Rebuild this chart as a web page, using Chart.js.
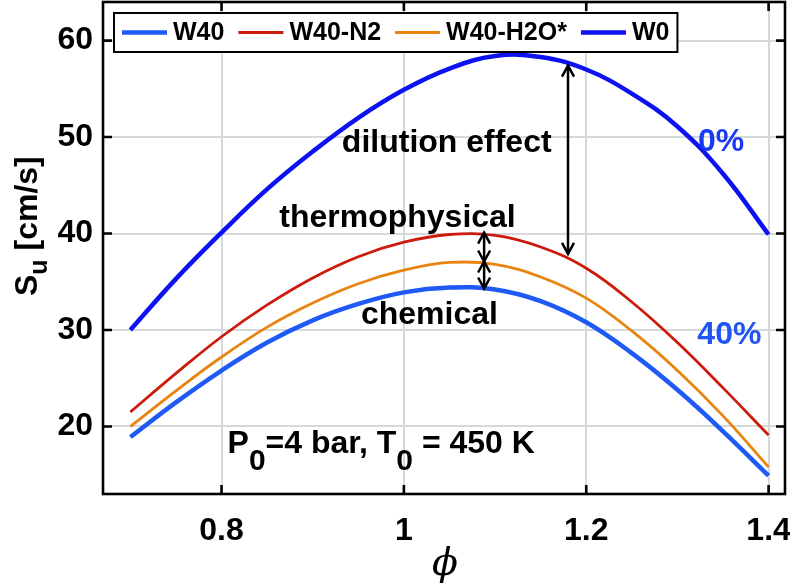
<!DOCTYPE html>
<html>
<head>
<meta charset="utf-8">
<script src="https://cdn.jsdelivr.net/npm/chart.js@4.4.0/dist/chart.umd.min.js"></script>
<style>
  html, body { margin: 0; padding: 0; background: #fff; }
</style>
</head>
<body>
<canvas id="chart_su" width="790" height="588"></canvas>
<script>
// equivalence ratio
var phi = [0.7, 0.75, 0.8, 0.85, 0.9, 0.95, 1.0, 1.05, 1.1, 1.15, 1.2, 1.25, 1.3, 1.35, 1.4];

// laminar burning velocity, cm/s
var w40    = [18.9, 22.5, 25.8, 28.7, 31.0, 32.7, 33.9, 34.4, 34.2, 33.0, 30.8, 27.6, 23.8, 19.5, 14.9];
var w40n2  = [21.5, 25.5, 29.3, 32.6, 35.4, 37.6, 39.1, 39.9, 39.8, 38.6, 36.4, 32.9, 28.7, 24.0, 19.1];
var w40h2o = [20.0, 23.7, 27.2, 30.3, 32.8, 34.8, 36.2, 37.0, 36.8, 35.5, 33.3, 29.9, 25.8, 21.1, 15.8];
var w0     = [30.0, 35.3, 40.1, 44.6, 48.5, 52.0, 54.9, 57.1, 58.4, 58.3, 57.0, 54.5, 51.1, 46.2, 39.9];

var seriesNames = ['W40', 'W40-N2', 'W40-H2O*', 'W0'];
var seriesData = [w40, w40n2, w40h2o, w0];
var seriesColors = ['#1f5af6', '#cc1a0c', '#e8840f', '#0c12f0'];
var seriesWidths = [4.5, 2.8, 2.8, 4.5];

var xTickVals = [0.8, 1, 1.2, 1.4];
var yTickVals = [20, 30, 40, 50, 60];

var FONT = '"Liberation Sans", Arial, Helvetica, sans-serif';

function arrowHead(ctx, x, y, dir) {
  // dir = -1 points up, +1 points down
  ctx.beginPath();
  ctx.moveTo(x - 6, y - dir * 11);
  ctx.lineTo(x, y);
  ctx.lineTo(x + 6, y - dir * 11);
  ctx.stroke();
}

function doubleArrow(ctx, xs, ys, xv, yTop, yBot) {
  var x = xs.getPixelForValue(xv);
  var y1 = ys.getPixelForValue(yTop);
  var y2 = ys.getPixelForValue(yBot);
  ctx.beginPath();
  ctx.moveTo(x, y1);
  ctx.lineTo(x, y2);
  ctx.stroke();
  arrowHead(ctx, x, y1, -1);
  arrowHead(ctx, x, y2, 1);
}

function drawRuns(ctx, x, y, runs) {
  // runs: [text, size, dy]
  for (var i = 0; i < runs.length; i++) {
    ctx.font = 'bold ' + runs[i][1] + 'px ' + FONT;
    ctx.fillText(runs[i][0], x, y + runs[i][2]);
    x += ctx.measureText(runs[i][0]).width;
  }
}

var decor = {
  id: 'decor',
  afterDatasetsDraw: function(chart) {
    var ctx = chart.ctx;
    var a = chart.chartArea;
    var xs = chart.scales.x;
    var ys = chart.scales.y;
    ctx.save();

    // box + inward ticks
    ctx.strokeStyle = '#000';
    ctx.lineWidth = 2.6;
    ctx.strokeRect(a.left, a.top, a.right - a.left, a.bottom - a.top);
    ctx.beginPath();
    xTickVals.forEach(function(v) {
      var px = xs.getPixelForValue(v);
      ctx.moveTo(px, a.bottom); ctx.lineTo(px, a.bottom - 9);
      ctx.moveTo(px, a.top); ctx.lineTo(px, a.top + 9);
    });
    yTickVals.forEach(function(v) {
      var py = ys.getPixelForValue(v);
      ctx.moveTo(a.left, py); ctx.lineTo(a.left + 9, py);
      ctx.moveTo(a.right, py); ctx.lineTo(a.right - 9, py);
    });
    ctx.stroke();

    // arrows
    ctx.lineWidth = 2.5;
    doubleArrow(ctx, xs, ys, 1.18, 57.4, 37.9);
    doubleArrow(ctx, xs, ys, 1.088, 40.1, 37.1);
    doubleArrow(ctx, xs, ys, 1.088, 37.1, 34.3);

    // annotation text
    ctx.fillStyle = '#000';
    ctx.textBaseline = 'alphabetic';
    ctx.textAlign = 'center';
    ctx.font = 'bold 32px ' + FONT;
    ctx.fillText('dilution effect', xs.getPixelForValue(1.047), ys.getPixelForValue(48.5));
    ctx.fillText('thermophysical', xs.getPixelForValue(0.993), ys.getPixelForValue(40.7));
    ctx.fillText('chemical', xs.getPixelForValue(1.028), ys.getPixelForValue(30.67));
    ctx.fillStyle = '#1a3af2';
    ctx.fillText('0%', xs.getPixelForValue(1.348), ys.getPixelForValue(48.6));
    ctx.fillStyle = '#1f55f2';
    ctx.fillText('40%', xs.getPixelForValue(1.357), ys.getPixelForValue(28.6));

    ctx.fillStyle = '#000';
    ctx.textAlign = 'left';
    drawRuns(ctx, xs.getPixelForValue(0.8066), ys.getPixelForValue(17.2), [
      ['P', 32, 0], ['0', 30, 17], ['=4 bar, T', 32, 0], ['0', 30, 17], [' = 450 K', 32, 0]
    ]);

    // axis titles
    ctx.save();
    ctx.translate(37, 296);
    ctx.rotate(-Math.PI / 2);
    drawRuns(ctx, 0, 0, [['S', 32, 0], ['u', 25, 10], [' [cm/s]', 32, 0]]);
    ctx.restore();

    ctx.textAlign = 'center';
    ctx.textBaseline = 'middle';
    ctx.font = 'italic 38px "DejaVu Serif", serif';
    ctx.fillText('\u03d5', 445, 565);

    // legend
    ctx.font = 'bold 25px ' + FONT;
    ctx.textAlign = 'left';
    var lx = 114, ly = 13, lh = 39;
    var x = lx + 8;
    var items = [];
    chart.data.datasets.forEach(function(ds) {
      items.push({x: x, ds: ds});
      x += 45 + 6 + ctx.measureText(ds.label).width + 14;
    });
    var lw = x - 14 + 8 - lx;
    ctx.fillStyle = '#fff';
    ctx.fillRect(lx, ly, lw, lh);
    ctx.lineWidth = 2;
    ctx.strokeStyle = '#000';
    ctx.strokeRect(lx, ly, lw, lh);
    items.forEach(function(it) {
      var cy = ly + lh / 2;
      ctx.strokeStyle = it.ds.borderColor;
      ctx.lineWidth = it.ds.borderWidth;
      ctx.beginPath();
      ctx.moveTo(it.x, cy);
      ctx.lineTo(it.x + 45, cy);
      ctx.stroke();
      ctx.fillStyle = '#000';
      ctx.fillText(it.ds.label, it.x + 51, cy + 1);
    });

    ctx.restore();
  }
};

var datasets = [];
for (var i = 0; i < seriesNames.length; i++) {
  var pts = [];
  for (var j = 0; j < phi.length; j++) {
    pts.push({x: phi[j], y: seriesData[i][j]});
  }
  datasets.push({
    label: seriesNames[i],
    data: pts,
    borderColor: seriesColors[i],
    borderWidth: seriesWidths[i],
    pointRadius: 0,
    tension: 0.4,
    fill: false
  });
}

var tickFont = {family: FONT, size: 32, weight: 'bold'};

new Chart(document.getElementById('chart_su'), {
  type: 'line',
  data: {datasets: datasets},
  options: {
    responsive: false,
    animation: false,
    devicePixelRatio: 1,
    layout: {padding: {left: 0, right: 5, top: 2, bottom: 0}},
    plugins: {
      legend: {display: false},
      tooltip: {enabled: false}
    },
    scales: {
      x: {
        type: 'linear',
        min: 0.67,
        max: 1.418,
        afterBuildTicks: function(s) { s.ticks = xTickVals.map(function(v) { return {value: v}; }); },
        afterFit: function(s) { s.height = 94; s.paddingLeft = 0; s.paddingRight = 0; },
        grid: {color: '#d4d9d9', lineWidth: 2, drawTicks: false},
        border: {display: false},
        ticks: {font: tickFont, color: '#000', padding: 18, maxRotation: 0,
          callback: function(v) { return String(v); }}
      },
      y: {
        min: 13,
        max: 64,
        afterBuildTicks: function(s) { s.ticks = yTickVals.map(function(v) { return {value: v}; }); },
        afterFit: function(s) { s.width = 103; s.paddingTop = 0; s.paddingBottom = 0; },
        grid: {color: '#d4d9d9', lineWidth: 2, drawTicks: false},
        border: {display: false},
        ticks: {font: tickFont, color: '#000', padding: 10,
          callback: function(v) { return String(v); }}
      }
    }
  },
  plugins: [decor]
});
</script>
</body>
</html>
